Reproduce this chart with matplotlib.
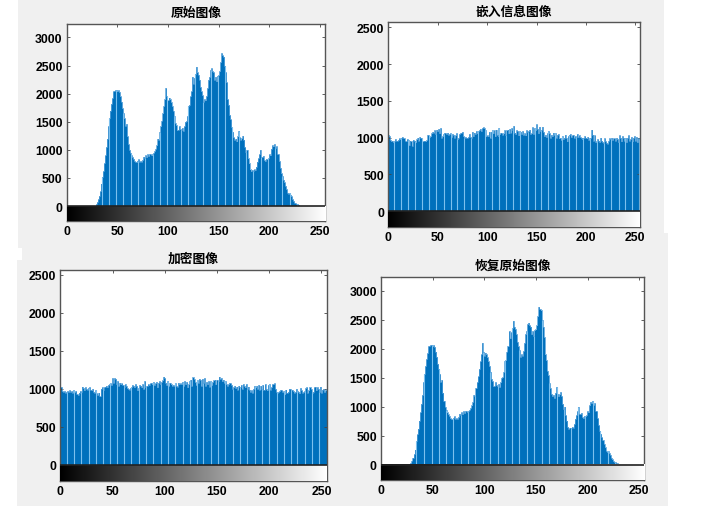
import numpy as np
import matplotlib
matplotlib.use('Agg')
import matplotlib.pyplot as plt
from matplotlib.patches import Rectangle

W, H = 702, 510

titles = ['原始图像', '嵌入信息图像', '加密图像', '恢复原始图像']
xticks = [0, 50, 100, 150, 200, 250]
yticks_orig = [0, 500, 1000, 1500, 2000, 2500, 3000]
yticks_flat = [0, 500, 1000, 1500, 2000, 2500]

original_counts = [0] * 29 + [
    30, 70, 120, 180, 260, 400, 520, 620, 760, 900, 1050,
    1200, 1420, 1560, 1700, 1820, 1920, 2040, 2050, 2060, 2070,
    2040, 2060, 2030, 1950, 1860, 1740, 1650, 1560, 1430, 1460,
    1240, 1100, 1000, 950, 900, 870, 840, 800, 790, 780,
    810, 830, 790, 800, 790, 820, 880, 860, 900, 870,
    920, 890, 930, 920, 900, 930, 950, 980, 1020, 1080,
    1200, 1180, 1320, 1420, 1520, 1650, 1780, 1900, 2100, 1950,
    1880, 1930, 1900, 1850, 1780, 1700, 1600, 1480, 1440, 1350,
    1360, 1420, 1370, 1350, 1390, 1340, 1420, 1500, 1510, 1600,
    1780, 1800, 1950, 2040, 2300, 2180, 2280, 2350, 2480, 2380,
    2340, 2250, 2120, 2040, 1970, 1860, 1900, 1880, 1960, 2100,
    2250, 2300, 2420, 2450, 2400, 2380, 2250, 2300, 2220, 2320,
    2330, 2400, 2560, 2720, 2680, 2660, 2500, 2380, 2200, 1900,
    1800, 1620, 1540, 1400, 1320, 1220, 1180, 1200, 1150, 1240,
    1340, 1220, 1180, 1210, 1250, 1180, 1050, 960, 1000, 850,
    760, 650, 620, 640, 630, 650, 640, 700, 790, 850,
    920, 1000, 880, 870, 890, 820, 800, 840, 830, 850,
    920, 900, 1020, 1080, 1060, 1100, 1030, 1060, 930, 920,
    800, 680, 580, 530, 470, 420, 360, 300, 240, 220,
    230, 200, 170, 120, 90, 60, 45, 40, 30, 20,
] + [0] * 26

embedded_counts = [
    1040, 1020, 970, 950, 960, 940, 950, 980, 960, 960,
    970, 990, 980, 1000, 1010, 1000, 990, 960, 950, 980,
    970, 900, 960, 950, 890, 970, 960, 960, 940, 980,
    1000, 960, 1010, 1000, 990, 950, 960, 960, 950, 970,
    1040, 1030, 1010, 1020, 1060, 1080, 1070, 1100, 1050, 1110,
    1090, 1120, 1060, 1130, 1000, 1020, 1050, 1070, 1060, 1050,
    1070, 1040, 1050, 1060, 1010, 1050, 1040, 1000, 1030, 1060,
    980, 1000, 1050, 1060, 1070, 1080, 1020, 1000, 1010, 1000,
    1000, 1010, 1050, 1010, 1000, 1080, 1020, 1070, 1050, 1090,
    1060, 1090, 1100, 1120, 1090, 1130, 1140, 1130, 1100, 1020,
    1030, 1020, 1080, 1000, 1080, 1100, 1060, 1100, 1020, 1110,
    1040, 1020, 1130, 1050, 1070, 1060, 1040, 1060, 1100, 1040,
    1100, 1110, 1060, 1120, 1070, 1130, 1100, 1160, 1070, 1050,
    1100, 1090, 1030, 1090, 1080, 1050, 1090, 1040, 1060, 1030,
    1100, 1080, 1090, 1110, 1050, 1060, 1140, 1050, 1130, 1100,
    1180, 1120, 1060, 1150, 1090, 1110, 1150, 1080, 1020, 1040,
    1010, 1060, 1090, 1060, 1000, 1040, 1020, 1070, 1040, 1060,
    1000, 1040, 1050, 990, 1000, 970, 1020, 980, 1000, 1040,
    1000, 950, 1020, 1040, 1050, 1010, 1030, 1040, 1000, 1020,
    1010, 1050, 1010, 1030, 1010, 1000, 980, 1000, 1000, 1020,
    1000, 990, 1010, 970, 1000, 1000, 1110, 1040, 960, 1030,
    940, 950, 980, 960, 940, 1000, 960, 940, 930, 990,
    950, 930, 920, 960, 990, 980, 1000, 970, 990, 990,
    960, 1000, 980, 940, 1030, 1000, 950, 1020, 1000, 960,
    1000, 940, 1000, 1030, 960, 980, 1010, 950, 1000, 1020,
    960, 1010, 940, 1000, 980, 960,
]

encrypted_counts = [
    1030, 1020, 970, 960, 970, 950, 960, 970, 960, 980,
    960, 970, 950, 980, 960, 970, 930, 920, 950, 970,
    960, 1030, 1010, 980, 1020, 1000, 990, 1010, 1020, 990,
    980, 1000, 960, 950, 980, 940, 920, 950, 900, 1000,
    1020, 980, 1020, 1030, 1040, 1020, 1050, 1060, 1070, 1050,
    1140, 1080, 1140, 1130, 1060, 1100, 1040, 1080, 1060, 1070,
    1050, 1020, 1060, 1040, 1010, 1000, 990, 1010, 1020, 1050,
    1040, 1020, 1060, 1040, 980, 1010, 1050, 1040, 1020, 1060,
    1000, 1100, 1020, 1040, 1060, 1050, 1070, 1080, 1060, 1090,
    1050, 1070, 1090, 1020, 1080, 1100, 1060, 1090, 1110, 1160,
    1140, 1080, 1050, 1100, 1040, 1080, 1060, 1040, 1050, 1040,
    1070, 1040, 1030, 1080, 1060, 1070, 1060, 1090, 1040, 1100,
    1060, 1090, 1020, 1060, 1100, 1120, 1040, 1150, 1130, 1090,
    1050, 1110, 1080, 1130, 1120, 1040, 1130, 1080, 1140, 1040,
    1090, 1060, 1100, 1030, 1100, 1050, 1090, 1110, 1120, 1060,
    1120, 1100, 1160, 1130, 1140, 1100, 1120, 1080, 1100, 1060,
    1040, 1060, 1080, 1070, 1050, 1000, 1020, 1040, 1010, 1030,
    990, 1040, 1020, 1050, 1000, 1060, 1040, 1020, 1060, 1000,
    1030, 990, 960, 980, 950, 1000, 1040, 1020, 1040, 1000,
    1050, 990, 1040, 1000, 1050, 990, 1060, 1000, 980, 1050,
    1060, 990, 1020, 1060, 1060, 1070, 1000, 960, 950, 960,
    970, 990, 980, 960, 970, 930, 990, 950, 960, 1000,
    1000, 980, 990, 970, 950, 960, 1000, 970, 960, 940,
    1010, 980, 950, 960, 970, 1010, 1020, 950, 980, 1020,
    1000, 940, 960, 1020, 1030, 980, 1020, 1000, 960, 1030,
    950, 990, 1000, 960, 980, 1000,
]

restored_counts = original_counts

plt.rcParams['font.family'] = ['Liberation Sans', 'DejaVu Sans']

fig = plt.figure(figsize=(W / 100, H / 100), dpi=100, facecolor='white')


def add_bg(x0, y0, x1, y1, color='#f0f0f0'):
    fig.add_artist(Rectangle((x0 / W, 1 - y1 / H), (x1 - x0) / W, (y1 - y0) / H, zorder=-1,
                             transform=fig.transFigure, facecolor=color, edgecolor='none'))


add_bg(18, 0, 664, 234)
add_bg(18, 234, 668, 249)
add_bg(22, 249, 668, 261)
add_bg(17, 261, 668, 507)


def draw_panel(box, counts, yticks, ylim, stripe_step, title, title_pos):
    left, top, right, bottom = box
    ax = fig.add_axes([left / W, 1 - bottom / H, (right - left) / W, (bottom - top) / H])
    x = np.arange(256)
    counts = np.array(counts)
    ax.fill_between(x, counts, step='mid', color='#0070bc', linewidth=0)
    ax.step(x, counts, where='mid', color='#4a9bd8', lw=0.5)
    # moire stripes in the scan show up about every 7 bins
    stripes = np.round(np.arange(6, 255, stripe_step)).astype(int)
    ax.vlines(stripes, 0, counts[stripes], color='#7cc0ee', lw=0.8, zorder=2.5)
    ramp = np.linspace(0, 1, 256).reshape(1, -1)
    ax.imshow(ramp, cmap='gray', extent=[0, 255, ylim[0], 0], aspect='auto', zorder=3)
    ax.axhline(0, color='#222222', lw=1.2, zorder=4)
    ax.set_xlim(0, 255)
    ax.set_ylim(*ylim)
    ax.set_xticks(xticks)
    ax.set_yticks(yticks)
    ax.tick_params(direction='in', length=2, width=0.6, color='#444444', top=True, right=True,
                   labelsize=8.8, pad=3)
    for lab in ax.get_xticklabels() + ax.get_yticklabels():
        lab.set_fontweight('bold')
    for sp in ax.spines.values():
        sp.set_color('#555555')
        sp.set_linewidth(1.0)
    fig.text(title_pos[0] / W, 1 - title_pos[1] / H, title, ha='center', va='center',
             fontsize=9.2, fontweight='bold', family=['Noto Sans CJK SC', 'DejaVu Sans'])
    return ax


draw_panel((66.7, 24.5, 325, 222), original_counts, yticks_orig, (-267, 3249), 7.14, titles[0], (196, 13))
draw_panel((388.3, 23.3, 640.3, 227.7), embedded_counts, yticks_flat, (-209, 2567), 7.08, titles[1], (514, 12))
draw_panel((60.3, 271, 326.7, 481.7), encrypted_counts, yticks_flat, (-207, 2560), 6.92, titles[2], (193, 259))
draw_panel((381, 277.7, 644.3, 480.7), restored_counts, yticks_orig, (-260, 3240), 7.12, titles[3], (513, 266))

fig.savefig('out.png', dpi=100, facecolor=fig.get_facecolor())
